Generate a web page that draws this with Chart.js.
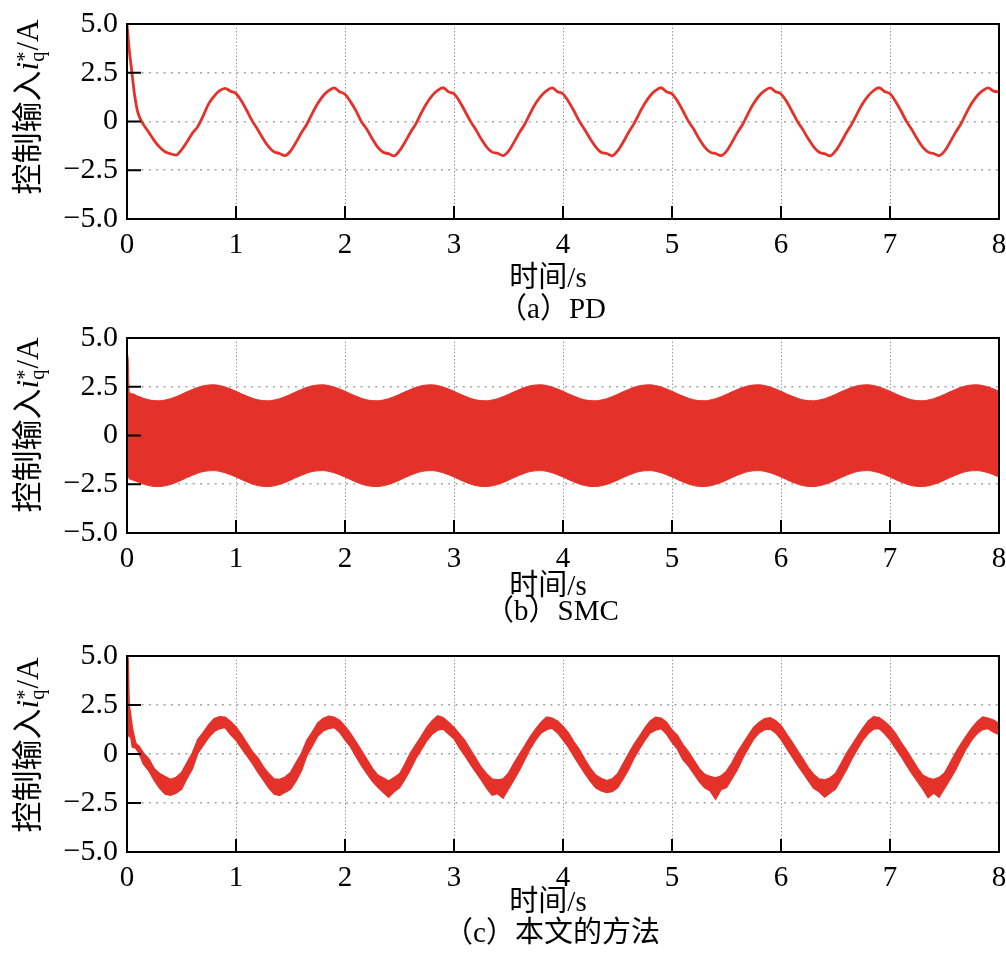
<!DOCTYPE html>
<html>
<head>
<meta charset="utf-8">
<script src="https://cdn.jsdelivr.net/npm/chart.js@4.4.0/dist/chart.umd.min.js"></script>
<style>
    body { margin: 0; background: #fff; }
    #wrap { position: relative; width: 1006px; height: 976px; overflow: hidden; background: #fff; }
    canvas { position: absolute; left: 0; }
    .ytitle {
        position: absolute; width: 240px; height: 40px; line-height: 40px;
        text-align: center; white-space: nowrap; transform: rotate(-90deg);
        font-family: 'Liberation Serif', 'Noto Sans CJK SC', serif; font-size: 31px; color: #000;
    }
    .ytitle i { font-style: italic; }
    .ss { display: inline-block; vertical-align: middle; font-size: 0.66em; line-height: 0.62em; text-align: left; margin-right: 1px; }
    .ss span { display: block; }
    .label {
        position: absolute; transform: translateX(-50%); white-space: nowrap;
        height: 32px; line-height: 32px; color: #000;
        font-family: 'Liberation Serif', 'Noto Sans CJK SC', serif; font-size: 29px;
    }
</style>
</head>
<body>
<div id="wrap">
    <canvas id="chartA" width="1006" height="262" style="top:0px"></canvas>
    <canvas id="chartB" width="1006" height="262" style="top:314px"></canvas>
    <canvas id="chartC" width="1006" height="263" style="top:632px"></canvas>

    <div class="ytitle" style="left:-92px;top:87px">控制输入<i>i</i><span class="ss"><span>*</span><span>q</span></span>/A</div>
    <div class="ytitle" style="left:-92px;top:405px">控制输入<i>i</i><span class="ss"><span>*</span><span>q</span></span>/A</div>
    <div class="ytitle" style="left:-92px;top:725px">控制输入<i>i</i><span class="ss"><span>*</span><span>q</span></span>/A</div>

    <div class="label" style="left:548px;top:261px">时间/s</div>
    <div class="label" style="left:552px;top:292px">（a）PD</div>
    <div class="label" style="left:548px;top:569px">时间/s</div>
    <div class="label" style="left:552px;top:594px">（b）SMC</div>
    <div class="label" style="left:548px;top:885px">时间/s</div>
    <div class="label" style="left:552px;top:916px">（c）本文的方法</div>
</div>
<script>
// axes
const xTicks = [0, 1, 2, 3, 4, 5, 6, 7, 8];
const yTicks = [-5, -2.5, 0, 2.5, 5];

// curves every 0.05 s from 0.15 s to 8.00 s,
// the first 0.1 s (start-up spike) is given separately
const sampleTimes = [];
for (let i = 0; i < 158; i++) sampleTimes.push(Math.round((0.15 + i * 0.05) * 100) / 100);

// (a) PD
const pdHeadTime = [0, 0.02, 0.04, 0.07, 0.10];
const pdHead = [5.0, 3.7, 2.75, 1.35, 0.45];
const pdValues = [
    -0.15, -0.55, -0.98, -1.32, -1.55, -1.66, -1.72, -1.45, -1.05, -0.60, -0.25, 0.30, 0.92, 1.30, 1.58, 1.70, 1.55,
    1.43, 1.05, 0.55, 0.02, -0.42, -0.90, -1.30, -1.56, -1.64, -1.75, -1.52, -1.08, -0.58, -0.14, 0.42, 0.92, 1.32, 1.58, 1.72, 1.53,
    1.40, 1.02, 0.56, 0.00, -0.40, -0.88, -1.32, -1.58, -1.65, -1.76, -1.50, -1.06, -0.56, -0.12, 0.44, 0.94, 1.33, 1.60, 1.73, 1.52,
    1.42, 1.04, 0.54, 0.02, -0.41, -0.90, -1.31, -1.57, -1.63, -1.75, -1.52, -1.07, -0.57, -0.13, 0.43, 0.93, 1.31, 1.58, 1.72, 1.53,
    1.41, 1.03, 0.55, 0.01, -0.42, -0.89, -1.30, -1.58, -1.64, -1.76, -1.51, -1.08, -0.58, -0.12, 0.42, 0.92, 1.32, 1.59, 1.73, 1.52,
    1.42, 1.05, 0.55, 0.02, -0.40, -0.90, -1.31, -1.57, -1.64, -1.75, -1.52, -1.07, -0.57, -0.13, 0.43, 0.93, 1.32, 1.58, 1.72, 1.53,
    1.41, 1.04, 0.54, 0.01, -0.41, -0.89, -1.30, -1.58, -1.65, -1.76, -1.51, -1.08, -0.58, -0.12, 0.42, 0.92, 1.31, 1.59, 1.73, 1.54,
    1.42, 1.04, 0.55, 0.02, -0.41, -0.90, -1.31, -1.57, -1.64, -1.75, -1.52, -1.07, -0.57, -0.13, 0.43, 0.93, 1.32, 1.58, 1.72, 1.56,
    1.52
];

// (b) SMC: envelope of the chattering band
const smcHeadTime = [0, 0.01, 0.02, 0.05, 0.10];
const smcUpperHead = [4.15, 4.0, 2.25, 2.14, 2.02];
const smcLowerHead = [-2.05, -2.1, -2.22, -2.28, -2.38];
const smcUpper = [
    1.91, 1.83, 1.79, 1.78, 1.82, 1.89, 1.99, 2.11, 2.24, 2.36, 2.47, 2.55, 2.59, 2.60, 2.56, 2.49, 2.39,
    2.27, 2.14, 2.02, 1.91, 1.83, 1.79, 1.78, 1.82, 1.89, 1.99, 2.11, 2.24, 2.36, 2.47, 2.55, 2.59, 2.60, 2.56, 2.49, 2.39,
    2.27, 2.14, 2.02, 1.91, 1.83, 1.79, 1.78, 1.82, 1.89, 1.99, 2.11, 2.24, 2.36, 2.47, 2.55, 2.59, 2.60, 2.56, 2.49, 2.39,
    2.27, 2.14, 2.02, 1.91, 1.83, 1.79, 1.78, 1.82, 1.89, 1.99, 2.11, 2.24, 2.36, 2.47, 2.55, 2.59, 2.60, 2.56, 2.49, 2.39,
    2.27, 2.14, 2.02, 1.91, 1.83, 1.79, 1.78, 1.82, 1.89, 1.99, 2.11, 2.24, 2.36, 2.47, 2.55, 2.59, 2.60, 2.56, 2.49, 2.39,
    2.27, 2.14, 2.02, 1.91, 1.83, 1.79, 1.78, 1.82, 1.89, 1.99, 2.11, 2.24, 2.36, 2.47, 2.55, 2.59, 2.60, 2.56, 2.49, 2.39,
    2.27, 2.14, 2.02, 1.91, 1.83, 1.79, 1.78, 1.82, 1.89, 1.99, 2.11, 2.24, 2.36, 2.47, 2.55, 2.59, 2.60, 2.56, 2.49, 2.39,
    2.27, 2.14, 2.02, 1.91, 1.83, 1.79, 1.78, 1.82, 1.89, 1.99, 2.11, 2.24, 2.36, 2.47, 2.55, 2.59, 2.60, 2.56, 2.49, 2.39,
    2.27
];
const smcLower = [
    -2.49, -2.57, -2.61, -2.62, -2.58, -2.51, -2.41, -2.29, -2.16, -2.04, -1.93, -1.85, -1.81, -1.80, -1.84, -1.91, -2.01,
    -2.13, -2.26, -2.38, -2.49, -2.57, -2.61, -2.62, -2.58, -2.51, -2.41, -2.29, -2.16, -2.04, -1.93, -1.85, -1.81, -1.80, -1.84, -1.91, -2.01,
    -2.13, -2.26, -2.38, -2.49, -2.57, -2.61, -2.62, -2.58, -2.51, -2.41, -2.29, -2.16, -2.04, -1.93, -1.85, -1.81, -1.80, -1.84, -1.91, -2.01,
    -2.13, -2.26, -2.38, -2.49, -2.57, -2.61, -2.62, -2.58, -2.51, -2.41, -2.29, -2.16, -2.04, -1.93, -1.85, -1.81, -1.80, -1.84, -1.91, -2.01,
    -2.13, -2.26, -2.38, -2.49, -2.57, -2.61, -2.62, -2.58, -2.51, -2.41, -2.29, -2.16, -2.04, -1.93, -1.85, -1.81, -1.80, -1.84, -1.91, -2.01,
    -2.13, -2.26, -2.38, -2.49, -2.57, -2.61, -2.62, -2.58, -2.51, -2.41, -2.29, -2.16, -2.04, -1.93, -1.85, -1.81, -1.80, -1.84, -1.91, -2.01,
    -2.13, -2.26, -2.38, -2.49, -2.57, -2.61, -2.62, -2.58, -2.51, -2.41, -2.29, -2.16, -2.04, -1.93, -1.85, -1.81, -1.80, -1.84, -1.91, -2.01,
    -2.13, -2.26, -2.38, -2.49, -2.57, -2.61, -2.62, -2.58, -2.51, -2.41, -2.29, -2.16, -2.04, -1.93, -1.85, -1.81, -1.80, -1.84, -1.91, -2.01,
    -2.13
];

// (c) proposed method: upper / lower edge of the noisy trace
const oursHeadTime = [0, 0.01, 0.02, 0.03, 0.05, 0.08, 0.11];
const oursUpperHead = [5.0, 4.9, 2.5, 2.15, 1.3, 0.55, 0.40];
const oursLowerHead = [0.9, 1.0, 0.9, 1.0, 0.35, 0.30, 0.05];
const oursUpper = [
    0.05, -0.25, -0.75, -1.00, -1.15, -1.30, -1.20, -0.95, -0.45, 0.05, 0.75, 1.10, 1.50, 1.80, 1.90, 1.88, 1.65,
    1.38, 0.98, 0.55, 0.12, -0.20, -0.65, -1.00, -1.28, -1.30, -1.18, -0.95, -0.45, 0.02, 0.70, 1.12, 1.58, 1.82, 1.92, 1.88, 1.72,
    1.42, 1.05, 0.62, 0.18, -0.28, -0.72, -1.08, -1.22, -1.38, -1.20, -1.02, -0.52, 0.05, 0.48, 0.90, 1.35, 1.70, 1.95, 1.85, 1.62,
    1.35, 1.02, 0.68, 0.22, -0.22, -0.68, -1.02, -1.28, -1.32, -1.28, -0.98, -0.48, -0.02, 0.42, 0.88, 1.28, 1.62, 1.88, 1.82, 1.68,
    1.40, 1.08, 0.62, 0.22, -0.28, -0.72, -1.08, -1.25, -1.36, -1.28, -1.02, -0.52, 0.00, 0.48, 0.88, 1.32, 1.68, 1.87, 1.82, 1.62,
    1.22, 0.95, 0.48, 0.12, -0.32, -0.75, -1.05, -1.15, -1.22, -1.12, -0.88, -0.45, 0.08, 0.52, 0.95, 1.36, 1.62, 1.80, 1.85, 1.70,
    1.45, 1.02, 0.62, 0.18, -0.25, -0.70, -1.05, -1.28, -1.32, -1.22, -1.00, -0.50, 0.02, 0.45, 0.88, 1.30, 1.68, 1.90, 1.85, 1.65,
    1.40, 1.05, 0.60, 0.20, -0.25, -0.70, -1.08, -1.22, -1.30, -1.20, -0.98, -0.48, 0.05, 0.50, 0.92, 1.32, 1.65, 1.88, 1.82, 1.72,
    1.55
];
const oursLower = [
    -0.50, -0.85, -1.35, -1.75, -2.05, -2.10, -2.00, -1.80, -1.25, -0.75, 0.05, 0.45, 0.85, 1.15, 1.30, 1.35, 1.00,
    0.70, 0.30, -0.08, -0.48, -0.92, -1.32, -1.72, -2.05, -2.12, -1.95, -1.80, -1.38, -0.85, -0.08, 0.42, 0.92, 1.18, 1.30, 1.35, 1.12,
    0.72, 0.38, -0.12, -0.58, -0.98, -1.38, -1.68, -1.95, -2.20, -1.92, -1.72, -1.28, -0.78, -0.22, 0.22, 0.68, 1.02, 1.22, 1.28, 1.02,
    0.78, 0.32, -0.08, -0.52, -0.92, -1.32, -1.75, -2.10, -2.02, -2.25, -1.78, -1.32, -0.82, -0.28, 0.28, 0.72, 1.08, 1.25, 1.32, 1.08,
    0.72, 0.35, -0.12, -0.55, -0.98, -1.38, -1.72, -1.88, -1.96, -1.92, -1.72, -1.28, -0.80, -0.22, 0.25, 0.70, 1.08, 1.22, 1.30, 1.02,
    0.60, 0.25, -0.28, -0.60, -1.00, -1.40, -1.72, -1.88, -2.30, -1.82, -1.70, -1.25, -0.78, -0.20, 0.30, 0.77, 1.08, 1.25, 1.28, 1.08,
    0.75, 0.32, -0.12, -0.55, -0.95, -1.35, -1.75, -1.92, -2.20, -1.98, -1.78, -1.30, -0.80, -0.25, 0.25, 0.70, 1.05, 1.28, 1.30, 1.05,
    0.72, 0.30, -0.10, -0.55, -0.98, -1.38, -1.78, -2.22, -1.98, -2.20, -1.75, -1.30, -0.82, -0.25, 0.28, 0.72, 1.05, 1.25, 1.30, 1.12,
    1.00
];

const red = '#e4322b';
const serif = "'Liberation Serif', 'Times New Roman', serif";

function toPoints(headTime, head, values) {
    const t = headTime.concat(sampleTimes);
    const v = head.concat(values);
    return t.map((x, i) => ({ x: x, y: v[i] }));
}

// black frame + short inward tick marks
const framePlugin = {
    id: 'frame',
    afterDatasetsDraw(chart) {
        const ctx = chart.ctx, a = chart.chartArea;
        const x = chart.scales.x, y = chart.scales.y;
        ctx.save();
        ctx.strokeStyle = '#000';
        ctx.lineWidth = 2;
        ctx.beginPath();
        yTicks.slice(1, -1).forEach((v) => {
            const py = y.getPixelForValue(v);
            ctx.moveTo(a.left, py);
            ctx.lineTo(a.left + 14, py);
        });
        xTicks.slice(1, -1).forEach((v) => {
            const px = x.getPixelForValue(v);
            ctx.moveTo(px, a.bottom);
            ctx.lineTo(px, a.bottom - 13);
        });
        ctx.stroke();
        ctx.strokeRect(a.left, a.top, a.right - a.left, a.bottom - a.top);
        ctx.restore();
    }
};

function createPanel(id, datasets, bottomHeight) {
    new Chart(document.getElementById(id).getContext('2d'), {
        type: 'line',
        data: { datasets: datasets },
        options: {
            responsive: false,
            animation: false,
            devicePixelRatio: 1,
            layout: { padding: { top: 24, right: 7, bottom: 0, left: 0 } },
            plugins: { legend: { display: false }, tooltip: { enabled: false } },
            scales: {
                x: {
                    type: 'linear',
                    min: 0,
                    max: 8,
                    afterFit: (s) => {
                        s.height = bottomHeight;
                        s.paddingLeft = 0;
                        s.paddingRight = 0;
                    },
                    afterBuildTicks: (s) => { s.ticks = xTicks.map((v) => ({ value: v })); },
                    ticks: { font: { family: serif, size: 29 }, color: '#000', padding: 9, maxRotation: 0, autoSkip: false },
                    grid: {
                        drawTicks: false,
                        lineWidth: 1,
                        color: (c) => (c.tick && (c.tick.value === 0 || c.tick.value === 8)) ? 'rgba(0,0,0,0)' : '#9a9a9a'
                    },
                    border: { display: false, dash: [1.5, 2] }
                },
                y: {
                    min: -5,
                    max: 5,
                    afterFit: (s) => {
                        s.width = 127;
                        s.paddingTop = 0;
                        s.paddingBottom = 0;
                    },
                    afterBuildTicks: (s) => { s.ticks = yTicks.map((v) => ({ value: v })); },
                    ticks: {
                        font: { family: serif, size: 30 },
                        color: '#000',
                        padding: 9,
                        callback: (v) => v === 0 ? '0' : (v < 0 ? '\u2212' : '') + Math.abs(v).toFixed(1)
                    },
                    grid: {
                        drawTicks: false,
                        lineWidth: 1.6,
                        color: (c) => (c.tick && Math.abs(c.tick.value) === 5) ? 'rgba(0,0,0,0)' : '#a5a5a5'
                    },
                    border: { display: false, dash: [2, 5.3] }
                }
            }
        },
        plugins: [framePlugin]
    });
}

createPanel('chartA', [{
    data: toPoints(pdHeadTime, pdHead, pdValues),
    borderColor: red,
    borderWidth: 2.8,
    pointRadius: 0,
    fill: false,
    cubicInterpolationMode: 'monotone'
}], 43);

createPanel('chartB', [{
    data: toPoints(smcHeadTime, smcUpperHead, smcUpper),
    borderColor: red,
    backgroundColor: red,
    borderWidth: 1,
    pointRadius: 0,
    fill: '+1',
    cubicInterpolationMode: 'monotone'
}, {
    data: toPoints(smcHeadTime, smcLowerHead, smcLower),
    borderColor: red,
    borderWidth: 1,
    pointRadius: 0,
    fill: false,
    cubicInterpolationMode: 'monotone'
}], 43);

createPanel('chartC', [{
    data: toPoints(oursHeadTime, oursUpperHead, oursUpper),
    borderColor: red,
    backgroundColor: red,
    borderWidth: 1.5,
    pointRadius: 0,
    fill: '+1',
    tension: 0
}, {
    data: toPoints(oursHeadTime, oursLowerHead, oursLower),
    borderColor: red,
    borderWidth: 1.5,
    pointRadius: 0,
    fill: false,
    tension: 0
}], 43);
</script>
</body>
</html>
